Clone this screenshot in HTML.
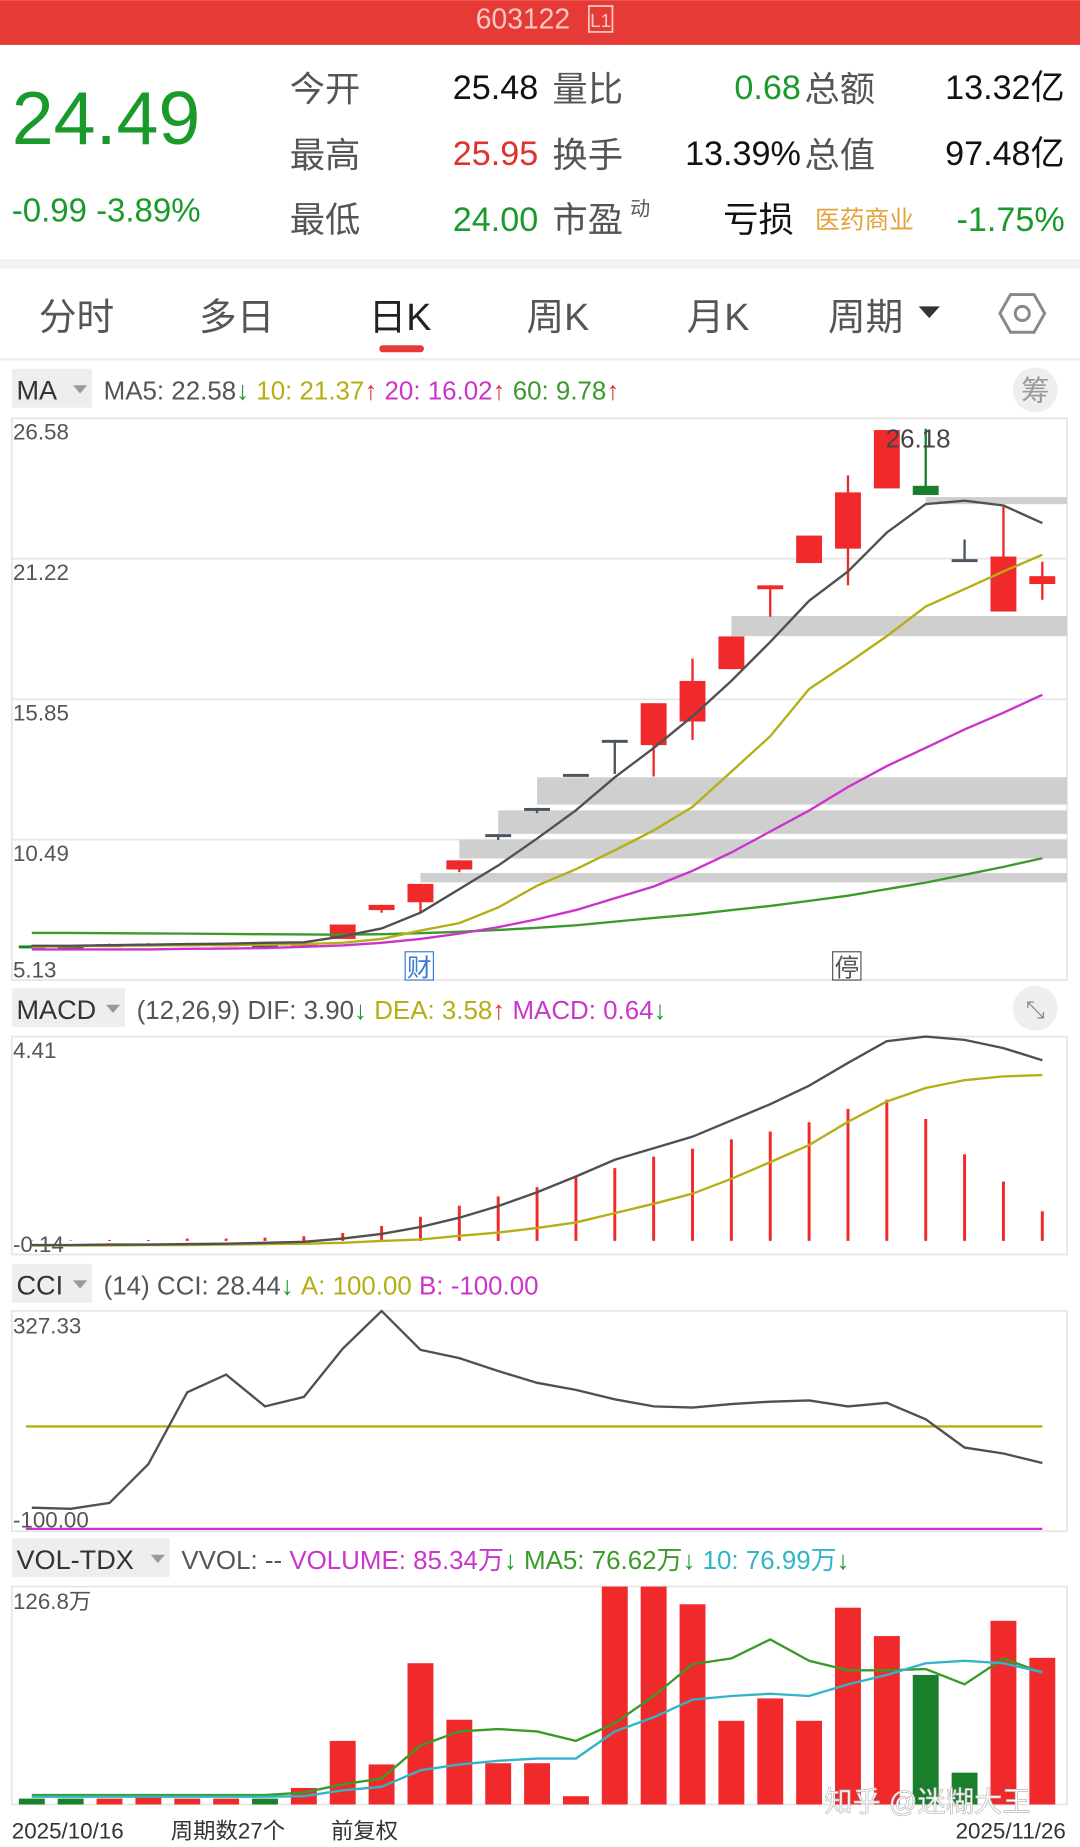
<!DOCTYPE html>
<html><head><meta charset="utf-8">
<style>
html,body{margin:0;padding:0;background:#fff;}
svg{display:block;}
text{font-family:"Liberation Sans","Noto Sans CJK SC",sans-serif;}
</style></head>
<body>
<svg id="root" width="1080" height="1847" viewBox="0 0 917 1568" xmlns="http://www.w3.org/2000/svg">
<rect x="0" y="0" width="917" height="1568" fill="#fff"/>
<rect x="0" y="0" width="917" height="38" fill="#e63a36"/>
<text x="444" y="24" font-size="24" fill="#f6c9c7" text-anchor="middle">603122</text>
<rect x="500" y="5" width="20" height="22" fill="none" stroke="#f6c9c7" stroke-width="1.5"/>
<text x="510" y="23" font-size="16" fill="#f6c9c7" text-anchor="middle">L1</text>
<text x="10" y="122" font-size="64" fill="#1a9a2a">24.49</text>
<text x="10" y="188" font-size="28" fill="#1a9a2a">-0.99 -3.89%</text>
<g font-size="30" fill="#555">
<text x="246" y="86">今开</text><text x="246" y="142">最高</text><text x="246" y="197">最低</text>
<text x="469" y="86">量比</text><text x="469" y="142">换手</text><text x="469" y="197">市盈</text>
<text x="683" y="86">总额</text><text x="683" y="142">总值</text>
</g>
<text x="535" y="183" font-size="17" fill="#555">动</text>
<text x="614" y="197" font-size="30" fill="#111">亏损</text>
<text x="692" y="194" font-size="21" fill="#e3a23a">医药商业</text>
<g font-size="29" text-anchor="end">
<text x="457" y="84" fill="#111">25.48</text><text x="457" y="140" fill="#e03030">25.95</text><text x="457" y="196" fill="#1a9a2a">24.00</text>
<text x="680" y="84" fill="#1a9a2a">0.68</text><text x="680" y="140" fill="#111">13.39%</text>
<text x="904" y="84" fill="#111">13.32亿</text><text x="904" y="140" fill="#111">97.48亿</text><text x="904" y="196" fill="#1a9a2a">-1.75%</text>
</g>
<rect x="0" y="220" width="917" height="8" fill="#f2f2f2"/>
<g font-size="32" fill="#555">
<text x="33" y="280">分时</text>
<text x="169" y="280">多日</text>
<text x="313" y="280" fill="#222">日K</text>
<text x="447" y="280">周K</text>
<text x="583" y="280">月K</text>
<text x="703" y="280">周期</text>
</g>
<polygon points="780,260 798,260 789,270" fill="#333"/>
<rect x="322" y="293" width="38" height="6" rx="3" fill="#e63a36"/>
<polygon points="858,250 878,250 887,266 878,282 858,282 849,266" fill="none" stroke="#888" stroke-width="2.5"/>
<circle cx="868" cy="266" r="6" fill="none" stroke="#888" stroke-width="2.5"/>
<line x1="0" y1="305" x2="917" y2="305" stroke="#eee" stroke-width="2"/>
<g id="charts"></g>
<text x="700" y="1538" font-size="24" fill="#fff" stroke="#bbb" stroke-width="0.6">知乎 @迷糊大王</text>
<g font-size="19" fill="#333">
<text x="10" y="1561">2025/10/16</text>
<text x="145" y="1561">周期数27个</text>
<text x="281" y="1561">前复权</text>
<text x="905" y="1561" text-anchor="end">2025/11/26</text>
</g>
</svg>
<script>
const opens=[6.45,6.44,6.46,6.47,6.47,6.48,6.5,6.5,6.7,7.8,8.1,9.35,10.7,11.7,13.0,14.3,14.1,15.0,17.0,20.05,21.05,21.6,23.9,24.0,21.2,19.2,20.25];
const closes=[6.4,6.44,6.5,6.52,6.53,6.53,6.5,6.55,7.25,8.0,8.8,9.7,10.7,11.7,13.0,14.3,15.7,16.55,18.25,20.2,22.1,23.75,26.13,23.65,21.2,21.3,20.55];
const highs=[6.47,6.46,6.52,6.54,6.55,6.55,6.55,6.6,7.25,8.0,8.8,9.7,10.7,11.7,13.0,14.3,15.7,17.4,18.25,20.2,22.1,24.4,26.13,26.18,21.95,23.2,21.1];
const lows=[6.35,6.42,6.45,6.45,6.45,6.47,6.45,6.48,6.7,7.7,7.7,9.25,10.48,11.5,13.0,13.0,12.9,14.3,17.0,19.0,21.05,20.2,23.9,23.65,21.2,19.2,19.65];
const ma5=[6.44,6.44,6.46,6.48,6.5,6.52,6.55,6.57,6.8,7.1,7.7,8.6,9.5,10.53,11.61,12.87,13.99,15.2,16.55,18.04,19.61,20.73,22.22,23.3,23.43,23.25,22.58];
const ma10=[6.4,6.42,6.44,6.45,6.46,6.47,6.48,6.5,6.55,6.7,7.02,7.3,7.9,8.73,9.36,10.08,10.84,11.74,13.09,14.44,16.24,17.23,18.26,19.39,20.06,20.73,21.37];
const ma20=[6.3,6.3,6.3,6.3,6.32,6.33,6.35,6.4,6.45,6.55,6.7,6.9,7.15,7.45,7.8,8.25,8.7,9.3,10.0,10.8,11.6,12.5,13.3,14.0,14.7,15.34,16.02];
const ma60=[6.93,6.93,6.92,6.91,6.9,6.89,6.88,6.87,6.86,6.88,6.92,6.97,7.04,7.12,7.22,7.36,7.5,7.63,7.8,7.96,8.15,8.35,8.6,8.85,9.15,9.45,9.78];
const chipStart=[23,18,13,12,11,10];
const chipTop=[23.57,19.03,12.87,11.61,10.49,9.22];
const chipBottom=[23.3,18.26,11.83,10.71,9.77,8.86];
const priceTicks=["26.58","21.22","15.85","10.49","5.13"];
const dif=[-0.09,-0.09,-0.08,-0.08,-0.07,-0.06,-0.04,-0.02,0.05,0.15,0.3,0.5,0.75,1.05,1.39,1.75,2.0,2.25,2.6,2.95,3.35,3.84,4.31,4.41,4.34,4.16,3.9];
const dea=[-0.1,-0.1,-0.1,-0.09,-0.09,-0.08,-0.07,-0.06,-0.04,0.0,0.03,0.11,0.18,0.28,0.4,0.6,0.8,1.02,1.34,1.7,2.07,2.57,3.01,3.3,3.47,3.55,3.58];
const macd=[0.01,0.01,0.02,0.02,0.05,0.05,0.07,0.1,0.17,0.32,0.52,0.76,0.96,1.16,1.38,1.57,1.82,1.99,2.19,2.36,2.56,2.85,3.05,2.63,1.87,1.28,0.64];
const cci=[-58.6,-60.9,-49.4,26.4,166.7,201.1,139.1,157.5,251.7,325.3,249.4,233.3,208.0,185.1,171.3,152.9,139.1,136.8,143.7,148.3,150.6,139.1,146.0,113.8,58.6,47.1,28.44];
const vol=[3.4,3.4,3.4,5.5,3.4,3.4,3.4,9.6,37,23.3,82.2,49.3,24,24,4.8,126.8,126.8,116.5,48.7,61.7,48.7,114.5,98,75.4,18.5,106.9,85.34];
const volUp=[0,0,1,1,1,1,0,1,1,1,1,1,1,1,1,1,1,1,1,1,1,1,1,0,0,1,1];
const volMa5=[5.5,5.5,5.5,5.5,5.5,5.5,5.5,6.9,11.7,15.1,34.3,42.5,43.9,42.5,37.0,47.3,63.1,81.6,85.0,96.0,83.6,78.1,78.1,78.8,69.9,85.0,76.62];
const volMa10=[4.5,4.5,4.5,4.5,4.5,4.5,4.5,4.8,8.2,10.3,19.9,23.3,25.4,26.7,26.7,42.5,50.7,61.0,63.1,64.4,63.1,69.9,75.4,82.2,83.6,82.2,76.99];

const NS="http://www.w3.org/2000/svg";
const G=document.getElementById('charts');
const RED="#f02a2a",GRN="#1a7f2a";
function el(tag,attrs,parent,txt){const e=document.createElementNS(NS,tag);for(const k in attrs)e.setAttribute(k,attrs[k]);if(txt!==undefined)e.textContent=txt;(parent||G).appendChild(e);return e;}
const X=i=>27+33*i;
const L=10,R=906;
function line(arr,yf,color,name,w){const d=arr.map((v,i)=>(i?'L':'M')+X(i)+','+yf(v).toFixed(1)).join(' ');const p=el('path',{d:d,fill:'none',stroke:color,'stroke-width':w||2});

}
function header(y,box,boxW,parts){const b=el('rect',{x:10,y:y-17,width:boxW,height:33,fill:'#eee'});


el('text',{x:14,y:y+9,'font-size':23,fill:'#333'},G,box);
el('polygon',{points:(boxW-6)+','+(y-3)+' '+(boxW+6)+','+(y-3)+' '+boxW+','+(y+4),fill:'#999'});
let t=el('text',{x:boxW+20,y:y+9,'font-size':22});


parts.forEach(p=>{el('tspan',{fill:p[1]},t,p[0]);});}
function frame(y0,y1,name){const f=el('rect',{x:L,y:y0,width:R-L,height:y1-y0,fill:'none',stroke:'#e6e6e6','stroke-width':1.5});

}

header(330,'MA',68,[['MA5: 22.58','#555'],['↓ ','#1a9a2a'],['10: 21.37','#b5ae14'],['↑ ','#e03030'],['20: 16.02','#c936c9'],['↑ ','#e03030'],['60: 9.78','#3a9a2a'],['↑','#e03030']]);
el('circle',{cx:879,cy:331,r:19,fill:'#eee'});
el('text',{x:879,y:340,'font-size':24,fill:'#999','text-anchor':'middle'},G,'筹');
const PT=355,PB=832,PMAX=26.58,PMIN=5.13;
const py=v=>PT+(PMAX-v)/(PMAX-PMIN)*(PB-PT);
frame(PT,PB,'price-chart-frame');
priceTicks.forEach((t,k)=>{const y=py(parseFloat(t));if(k>0&&k<4)el('line',{x1:L,y1:y,x2:R,y2:y,stroke:'#e6e6e6','stroke-width':1.5});
const tx=el('text',{x:11,y:k==4?y-2:y+18,'font-size':19,fill:'#555'},G,t);

});
chipStart.forEach((s,k)=>{const r=el('rect',{x:X(s),y:py(chipTop[k]),width:R-X(s),height:py(chipBottom[k])-py(chipTop[k]),fill:'#cfcfcf'});

});
opens.forEach((o,i)=>{const c=closes[i];const x=X(i);let col=c>o?RED:(c<o?GRN:'#4a5560');
el('line',{x1:x,y1:py(highs[i]),x2:x,y2:py(lows[i]),stroke:col,'stroke-width':2});
const top=py(Math.max(o,c)),bot=py(Math.min(o,c));
const b=el('rect',{x:x-11,y:top,width:22,height:Math.max(2.5,bot-top),fill:col});

});
line(ma60,py,'#3a9a2a','ma60-line');
line(ma20,py,'#cc33cc','ma20-line');
line(ma10,py,'#b5ae14','ma10-line');
line(ma5,py,'#505050','ma5-line');
el('text',{x:752,y:380,'font-size':22,fill:'#444'},G,'26.18');
[[356,'财','#3a7bd5'],[719,'停','#555']].forEach(m=>{const r=el('rect',{x:m[0]-12,y:808,width:24,height:24,fill:'#fff',stroke:m[2],'stroke-width':1});


el('text',{x:m[0],y:829,'font-size':21,fill:m[2],'text-anchor':'middle'},G,m[1]);});

header(856,'MACD',96,[['(12,26,9) DIF: 3.90','#555'],['↓ ','#1a9a2a'],['DEA: 3.58','#b5ae14'],['↑ ','#e03030'],['MACD: 0.64','#c936c9'],['↓','#1a9a2a']]);
el('circle',{cx:879,cy:856,r:19,fill:'#eee'});
el('text',{x:879,y:864,'font-size':20,fill:'#888','text-anchor':'middle'},G,'⤡');
const MT=880,MB=1065,MMAX=4.41,MMIN=-0.14;
const my=v=>MT+(MMAX-v)/(MMAX-MMIN)*(MB-MT-6);
frame(MT,MB,'macd-chart-frame');
el('text',{x:11,y:898,'font-size':19,fill:'#555'},G,'4.41');
el('text',{x:11,y:1063,'font-size':19,fill:'#555'},G,'-0.14');
macd.forEach((v,i)=>{const b=el('line',{x1:X(i),y1:my(0),x2:X(i),y2:my(v),stroke:v>=0?RED:GRN,'stroke-width':2.5});

});
line(dea,my,'#b5ae14','dea-line');
line(dif,my,'#505050','dif-line');

header(1090,'CCI',68,[['(14) CCI: 28.44','#555'],['↓ ','#1a9a2a'],['A: 100.00 ','#b5ae14'],['B: -100.00','#c936c9']]);
const CT=1113,CB=1300;
const cy=v=>1211-(v-100)*0.435;
frame(CT,CB,'cci-chart-frame');
el('text',{x:11,y:1132,'font-size':19,fill:'#555'},G,'327.33');
el('text',{x:11,y:1297,'font-size':19,fill:'#555'},G,'-100.00');
const a=el('line',{x1:22,y1:cy(100),x2:885,y2:cy(100),stroke:'#b5ae14','stroke-width':2});


const bl=el('line',{x1:22,y1:cy(-100),x2:885,y2:cy(-100),stroke:'#cc33cc','stroke-width':2});


line(cci,cy,'#505050','cci-line');

header(1323,'VOL-TDX',134,[['VVOL: -- ','#555'],['VOLUME: 85.34万','#c936c9'],['↓ ','#1a9a2a'],['MA5: 76.62万','#3a9a2a'],['↓ ','#1a9a2a'],['10: 76.99万','#30b5c8'],['↓','#1a9a2a']]);
const VT=1347,VB=1532,VMAX=126.8;
const vy=v=>VB-v/VMAX*(VB-VT);
frame(VT,VB,'volume-chart-frame');
el('text',{x:11,y:1366,'font-size':19,fill:'#555'},G,'126.8万');
vol.forEach((v,i)=>{const b=el('rect',{x:X(i)-11,y:vy(v),width:22,height:VB-vy(v),fill:volUp[i]?RED:GRN});

});
line(volMa5,vy,'#3a9a2a','volume-ma5-line');
line(volMa10,vy,'#30b5c8','volume-ma10-line');
</script>
</body></html>
